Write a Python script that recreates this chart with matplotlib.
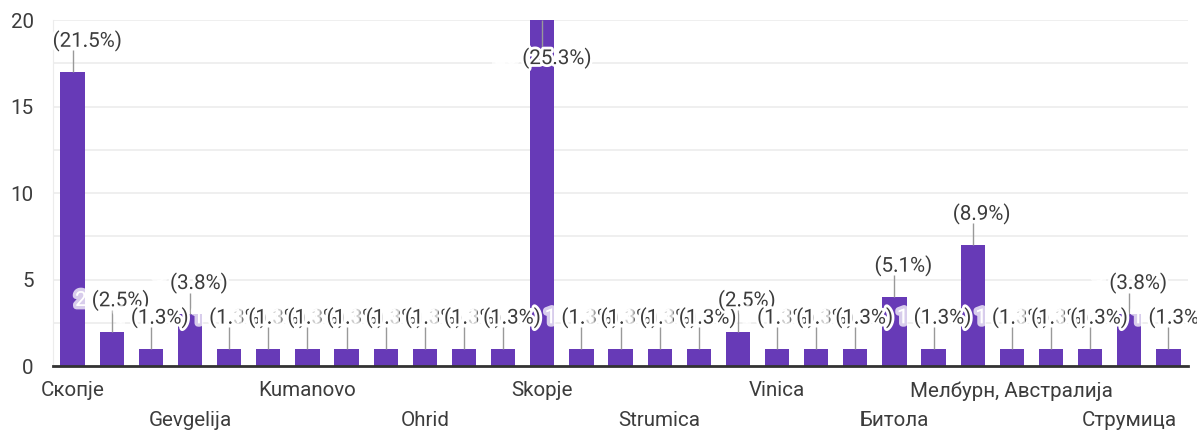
import matplotlib
matplotlib.use("Agg")
import matplotlib.pyplot as plt
import matplotlib.patheffects as pe
import numpy as np

# answers (only every third category name is visible in the chart)
categories = ["Скопје", "", "", "Gevgelija", "", "", "Kumanovo", "", "",
              "Ohrid", "", "", "Skopje", "", "", "Strumica", "", "",
              "Vinica", "", "", "Битола", "", "", "Мелбурн, Австралија", "", "",
              "Струмица", ""]
counts = [17, 2, 1, 3, 1, 1, 1, 1, 1, 1, 1, 1, 20, 1, 1, 1, 1, 2,
          1, 1, 1, 4, 1, 7, 1, 1, 1, 3, 1]
y_ticks = [0, 5, 10, 15, 20]

total = sum(counts)
purple = "#673ab7"
text_col = "#3c3c3c"
fs = 14.8

plt.rcParams['font.family'] = ['Roboto', 'DejaVu Sans']

fig = plt.figure(figsize=(11.97, 4.38), dpi=100)
ax = fig.add_axes([0.0443, 0.164, 0.9482, 0.79])

x = np.arange(len(counts))
ax.bar(x, counts, width=0.62, color=purple, zorder=2)

ax.set_xlim(-0.5, len(counts) - 0.5)
ax.set_ylim(0, 20)
ax.set_yticks(y_ticks)
ax.set_yticks(np.arange(0, 20.1, 2.5), minor=True)
ax.grid(True, axis='y', which='both', color='#ececec', linewidth=1.2, zorder=0)
ax.tick_params(axis='y', which='both', length=0, pad=14, labelsize=fs, labelcolor=text_col)

for s in ['top', 'right']:
    ax.spines[s].set_visible(False)
ax.spines['left'].set_color('#ececec')
ax.spines['bottom'].set_color('#333333')
ax.spines['bottom'].set_linewidth(2)
ax.spines['bottom'].set_zorder(3)

# x tick labels, alternating rows
tick_pos = [i for i, c in enumerate(categories) if c]
ax.set_xticks(tick_pos)
ax.set_xticklabels([categories[i] for i in tick_pos])
ax.tick_params(axis='x', length=0, labelsize=fs, labelcolor=text_col)
for k, t in enumerate(ax.xaxis.get_major_ticks()):
    t.set_pad(11 if k % 2 == 0 else 32.5)

# value labels with leader lines (count in white, percent in grey, both haloed)
halo_pct = [pe.withStroke(linewidth=4, foreground='white')]
halo_cnt = [pe.withStroke(linewidth=5, foreground='white', alpha=0.75)]
for i, n in enumerate(counts):
    ly = n + 1.8
    if ly > 19.5:
        ly = n - 2.2
        ax.vlines(i, ly + 0.6, n, color='#999999', linewidth=1, zorder=3)
    else:
        ax.vlines(i, n, ly - 0.55, color='#999999', linewidth=1, zorder=3)
    pct = "(%.1f%%)" % (100.0 * n / total)
    ax.annotate(str(n), xy=(i, ly), xytext=(-18, 0), textcoords='offset points',
                ha='right', va='center', fontsize=fs, color='white',
                path_effects=halo_cnt, zorder=10 + i, annotation_clip=False)
    ax.annotate(pct, xy=(i, ly), xytext=(-14.4, 0), textcoords='offset points',
                ha='left', va='center', fontsize=fs, color=text_col,
                path_effects=halo_pct, zorder=10 + i, annotation_clip=False)

fig.savefig("out.png", dpi=100)
